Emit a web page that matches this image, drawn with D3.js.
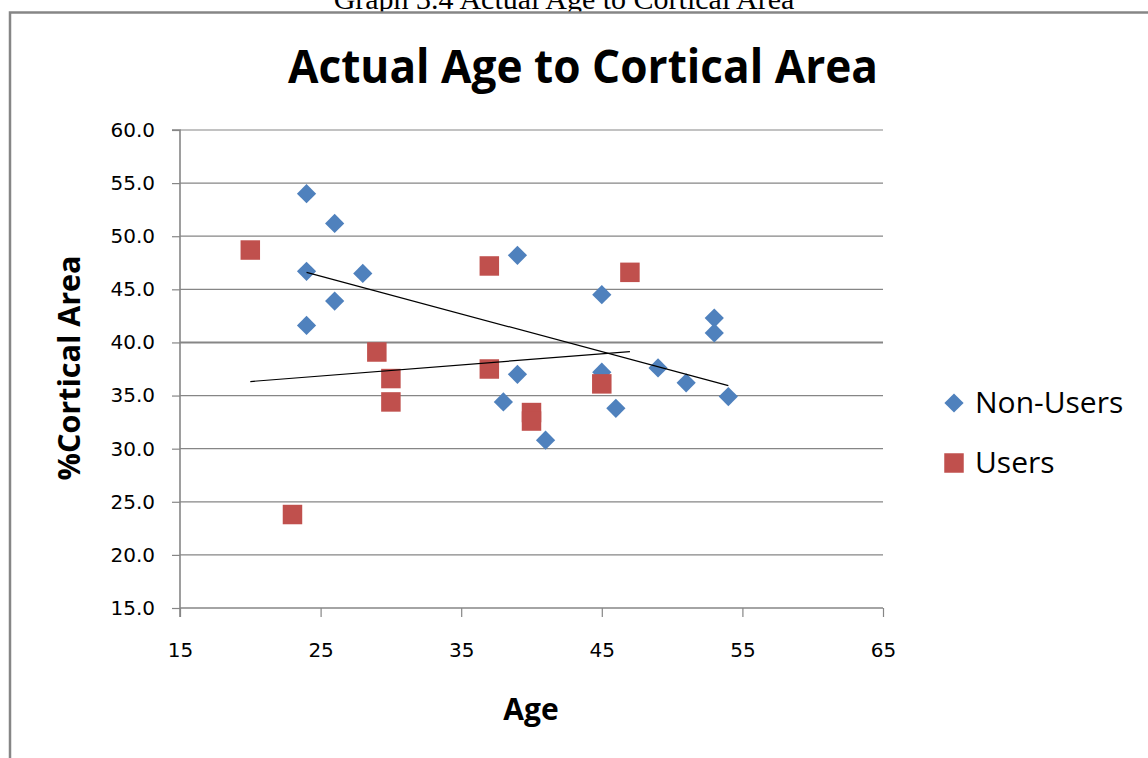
<!DOCTYPE html>
<html>
<head>
<meta charset="utf-8">
<script src="https://cdn.jsdelivr.net/npm/d3@7"></script>
<style>
  html, body { margin: 0; padding: 0; background: #ffffff; }
  svg { display: block; }
</style>
</head>
<body>
<div id="chart"></div>
<script>
// Scatter of age vs cortical area, two groups plus linear trendlines

// Non-Users (blue diamonds)
const nonUserAge  = [24, 26, 24, 28, 26, 24, 39, 45, 53, 53, 49, 39, 45, 51, 54, 38, 46, 41];
const nonUserArea = [54.0, 51.2, 46.7, 46.5, 43.9, 41.6, 48.2, 44.5, 42.3, 40.9, 37.6, 37.0, 37.2, 36.2, 34.9, 34.4, 33.8, 30.8];

// Users (red squares)
const userAge  = [20, 37, 47, 29, 30, 30, 37, 45, 40, 40, 23];
const userArea = [48.7, 47.2, 46.6, 39.1, 36.6, 34.4, 37.5, 36.1, 33.4, 32.6, 23.8];

const seriesNames = ['Non-Users', 'Users'];
const xTicks = [15, 25, 35, 45, 55, 65];
const yTicks = [15, 20, 25, 30, 35, 40, 45, 50, 55, 60];

const width = 1148;
const height = 758;

const blue = '#4F81BD';
const red = '#C0504D';
const grid = '#868686';

const svg = d3.select('#chart').append('svg')
    .attr('width', width)
    .attr('height', height);

// caption above the frame (only its lower part shows, as in the source)
svg.append('text')
    .attr('x', 564)
    .attr('y', 9)
    .attr('text-anchor', 'middle')
    .attr('font-family', '"Liberation Serif", "Times New Roman", serif')
    .attr('font-size', 30)
    .attr('fill', '#000')
    .text('Graph 3.4 Actual Age to Cortical Area');

// chart frame
svg.append('rect')
    .attr('x', 10)
    .attr('y', 12.5)
    .attr('width', 1300)
    .attr('height', 900)
    .attr('fill', '#fff')
    .attr('stroke', grid)
    .attr('stroke-width', 2.5);

const x = d3.scaleLinear().domain([15, 65]).range([180, 883]);
const y = d3.scaleLinear().domain([15, 60]).range([608, 130]);

// horizontal gridlines
svg.append('g')
    .selectAll('line')
    .data(yTicks.filter(d => d > 15))
    .join('line')
    .attr('x1', x(15))
    .attr('x2', x(65))
    .attr('y1', d => y(d))
    .attr('y2', d => y(d))
    .attr('stroke', grid)
    .attr('stroke-width', d => d === 40 ? 2 : 1.2);

// y axis
const yAxis = svg.append('g')
    .attr('transform', `translate(${x(15)},0)`)
    .call(d3.axisLeft(y).tickValues(yTicks).tickSize(8).tickPadding(17).tickFormat(d3.format('.1f')));

// x axis
const xAxis = svg.append('g')
    .attr('transform', `translate(0,${y(15)})`)
    .call(d3.axisBottom(x).tickValues(xTicks).tickSize(9).tickPadding(26).tickFormat(d3.format('d')));

[yAxis, xAxis].forEach(ax => {
    ax.select('.domain').attr('stroke', grid).attr('stroke-width', 1.6);
    ax.selectAll('.tick line').attr('stroke', grid).attr('stroke-width', 1.2);
    ax.selectAll('.tick text')
        .attr('fill', '#000')
        .attr('font-family', '"DejaVu Sans", Verdana, sans-serif')
        .attr('font-size', 20);
});
yAxis.select('.domain').attr('d', `M-8,${y(60)}H0V${y(15) + 9}`);
xAxis.select('.domain').attr('d', `M${x(15)},0H${x(65)}`);

// points
const nonUsers = nonUserAge.map((a, i) => ({age: a, area: nonUserArea[i]}));
const users = userAge.map((a, i) => ({age: a, area: userArea[i]}));

const diamond = d3.symbol().type(d3.symbolSquare).size(185);
const square = d3.symbol().type(d3.symbolSquare).size(380);

svg.append('g')
    .selectAll('path')
    .data(nonUsers)
    .join('path')
    .attr('d', diamond)
    .attr('transform', d => `translate(${x(d.age)},${y(d.area)}) rotate(45)`)
    .attr('fill', blue);

svg.append('g')
    .selectAll('path')
    .data(users)
    .join('path')
    .attr('d', square)
    .attr('transform', d => `translate(${x(d.age)},${y(d.area)})`)
    .attr('fill', red);

// least squares trendline over the range of each series
function trend(pts) {
    const mx = d3.mean(pts, d => d.age);
    const my = d3.mean(pts, d => d.area);
    const sxy = d3.sum(pts, d => (d.age - mx) * (d.area - my));
    const sxx = d3.sum(pts, d => (d.age - mx) * (d.age - mx));
    const slope = sxy / sxx;
    const ext = d3.extent(pts, d => d.age);
    return ext.map(a => ({age: a, area: my + slope * (a - mx)}));
}

const line = d3.line().x(d => x(d.age)).y(d => y(d.area));

svg.append('g')
    .selectAll('path')
    .data([trend(nonUsers), trend(users)])
    .join('path')
    .attr('d', line)
    .attr('fill', 'none')
    .attr('stroke', '#000')
    .attr('stroke-width', 1.2);

// titles
svg.append('text')
    .attr('x', 583)
    .attr('y', 83)
    .attr('text-anchor', 'middle')
    .attr('font-family', '"Open Sans", sans-serif')
    .attr('font-weight', 'bold')
    .attr('font-size', 46)
    .attr('textLength', 590)
    .attr('lengthAdjust', 'spacingAndGlyphs')
    .text('Actual Age to Cortical Area');

svg.append('text')
    .attr('transform', 'translate(80,368) rotate(-90)')
    .attr('text-anchor', 'middle')
    .attr('font-family', '"Open Sans", sans-serif')
    .attr('font-weight', 'bold')
    .attr('font-size', 30)
    .attr('textLength', 225)
    .attr('lengthAdjust', 'spacingAndGlyphs')
    .text('%Cortical Area');

svg.append('text')
    .attr('x', 531)
    .attr('y', 720)
    .attr('text-anchor', 'middle')
    .attr('font-family', '"Open Sans", sans-serif')
    .attr('font-weight', 'bold')
    .attr('font-size', 30)
    .text('Age');

// legend
const legend = svg.append('g')
    .selectAll('g')
    .data(seriesNames)
    .join('g')
    .attr('transform', (d, i) => `translate(954,${403 + i * 60})`);

legend.append('path')
    .attr('d', (d, i) => i === 0 ? diamond() : square())
    .attr('transform', (d, i) => i === 0 ? 'rotate(45)' : null)
    .attr('fill', (d, i) => i === 0 ? blue : red);

legend.append('text')
    .attr('x', 21)
    .attr('y', 10)
    .attr('font-family', '"Open Sans", sans-serif')
    .attr('font-size', 30)
    .attr('fill', '#000')
    .text(d => d);
</script>
</body>
</html>
